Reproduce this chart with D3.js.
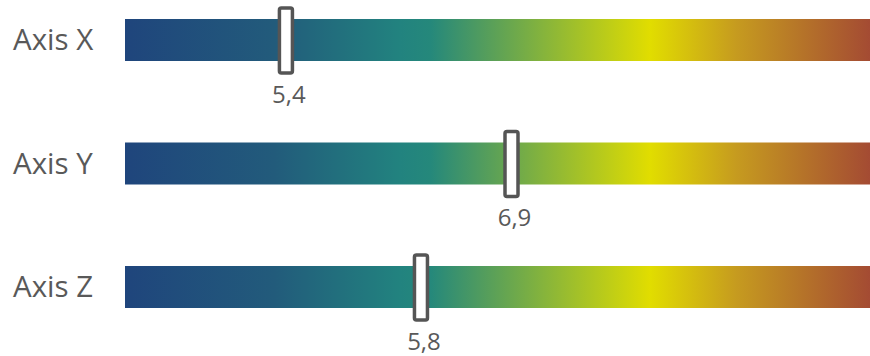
<!DOCTYPE html>
<html>
<head>
<meta charset="utf-8">
<script src="https://cdn.jsdelivr.net/npm/d3@7"></script>
<style>
  html, body { margin: 0; padding: 0; background: #fff; }
  svg { display: block; }
</style>
</head>
<body>
<svg id="chart" width="870" height="356"></svg>
<script>
// Axis readings and the full range of each axis
const axes = ["Axis X", "Axis Y", "Axis Z"];
const values = [5.4, 6.9, 5.8];
const axisMin = [0, 0, 0];
const axisMax = [25, 13.3, 14.6];

// Colour ramp shared by every bar
const rampOffsets = [0, 0.2, 0.37, 0.41, 0.705, 0.82, 1];
const rampColors = ["#1f457c", "#225b7b", "#22837f", "#25887b", "#e1dd00", "#c69b1f", "#a44b33"];

const W = 870, H = 356;
const barLeft = 125, barRight = 870;
const barH = 42;
const markW = 13, markH = 65;
const textColor = "#595959";
const fmt = v => d3.format(".1f")(v).replace(".", ",");

const svg = d3.select("#chart");

const grad = svg.append("defs").append("linearGradient")
  .attr("id", "ramp")
  .attr("x1", "0%").attr("x2", "100%").attr("y1", "0%").attr("y2", "0%");
grad.selectAll("stop")
  .data(rampOffsets)
  .join("stop")
  .attr("offset", d => d)
  .attr("stop-color", (d, i) => rampColors[i]);

const y = d3.scalePoint()
  .domain(axes)
  .range([40, 287]);

const rows = svg.selectAll("g.row")
  .data(axes.map((name, i) => ({
    name, value: values[i],
    x: d3.scaleLinear().domain([axisMin[i], axisMax[i]]).range([barLeft, barRight])
  })))
  .join("g")
  .attr("class", "row")
  .attr("transform", d => `translate(0,${y(d.name)})`);

rows.append("text")
  .attr("x", 13)
  .attr("y", 0)
  .attr("dy", "0.35em")
  .attr("font-family", "'Segoe UI', 'Open Sans', sans-serif")
  .attr("font-size", 29.5)
  .attr("fill", textColor)
  .text(d => d.name);

rows.append("rect")
  .attr("x", d => d.x.range()[0])
  .attr("y", -barH / 2)
  .attr("width", d => d.x.range()[1] - d.x.range()[0])
  .attr("height", barH)
  .attr("fill", "url(#ramp)");

rows.append("rect")
  .attr("x", d => d.x(d.value) - markW / 2)
  .attr("y", -barH / 2 - 11)
  .attr("width", markW)
  .attr("height", markH)
  .attr("rx", 2)
  .attr("fill", "#fff")
  .attr("stroke", "#555")
  .attr("stroke-width", 3.5);

rows.append("text")
  .attr("x", d => d.x(d.value) + 3)
  .attr("y", 62.5)
  .attr("text-anchor", "middle")
  .attr("font-family", "'Segoe UI', 'Open Sans', sans-serif")
  .attr("font-size", 24)
  .attr("fill", textColor)
  .text(d => fmt(d.value));
</script>
</body>
</html>
